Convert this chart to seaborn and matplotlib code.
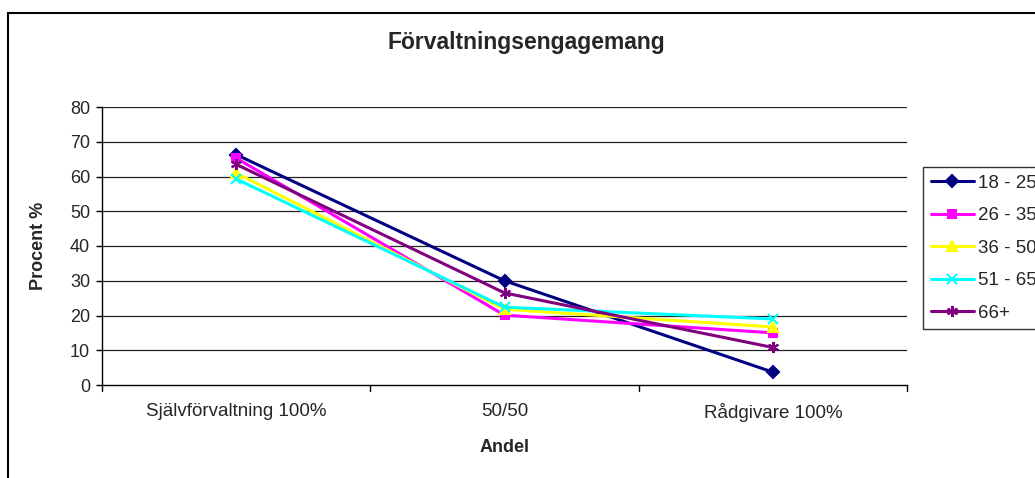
import matplotlib
matplotlib.use("Agg")
import matplotlib.pyplot as plt
import matplotlib.patches as mpatches
import seaborn as sns
import pandas as pd

# Chart data
categories = ["Självförvaltning 100%", "50/50", "Rådgivare 100%"]
groups = ["18 - 25", "26 - 35", "36 - 50", "51 - 65", "66+"]
v_18_25 = [66.3, 30.0, 3.7]
v_26_35 = [65.3, 20.1, 15.0]
v_36_50 = [61.0, 21.8, 16.7]
v_51_65 = [59.3, 22.4, 19.0]
v_66 = [63.5, 26.5, 10.8]
y_ticks = [0, 10, 20, 30, 40, 50, 60, 70, 80]

series = [v_18_25, v_26_35, v_36_50, v_51_65, v_66]
rows = []
for g, vals in zip(groups, series):
    for i, (c, v) in enumerate(zip(categories, vals)):
        rows.append({"pos": i, "Andel": c, "Procent": v, "Grupp": g})
df = pd.DataFrame(rows)

sns.set_style("white")
plt.rcParams["font.family"] = ["Liberation Sans", "DejaVu Sans"]

palette = {"18 - 25": "#000080", "26 - 35": "#FF00FF", "36 - 50": "#FFFF00",
           "51 - 65": "#00FFFF", "66+": "#800080"}
markers = {"18 - 25": "D", "26 - 35": "s", "36 - 50": "^",
           "51 - 65": "x", "66+": (6, 2, 0)}
msizes = {"18 - 25": 6, "26 - 35": 5.5, "36 - 50": 6.5, "51 - 65": 6.5, "66+": 8}

fig = plt.figure(figsize=(10.35, 4.78), dpi=100)
ax = fig.add_axes([102 / 1035, 1 - 385 / 478, (907 - 102) / 1035, (385 - 107) / 478])

for g in groups:
    sub = df[df["Grupp"] == g]
    sns.lineplot(data=sub, x="pos", y="Procent", color=palette[g], marker=markers[g],
                 sort=False, linewidth=2.2, markersize=msizes[g], markeredgewidth=1.5,
                 markeredgecolor=palette[g], ax=ax, label=g, legend=False)

ax.set_xlim(-0.5, 2.5)
ax.set_ylim(0, 80)
ax.set_yticks(y_ticks)
ax.set_yticklabels([str(t) for t in y_ticks], fontsize=13)
ax.set_xticks(range(len(categories)))
ax.set_xticklabels(categories, fontsize=13.5)
ax.tick_params(axis="x", length=0, pad=13)
ax.tick_params(axis="y", length=4.5, width=1, direction="out", color="black", pad=4, left=True)
# category boundary ticks on the x axis
for xb in [-0.5, 0.5, 1.5, 2.5]:
    ax.plot([xb, xb], [0, -1.7], color="black", lw=1, clip_on=False)

for t in y_ticks[1:]:
    ax.axhline(t, color="#222222", lw=0.9, zorder=0)

for s in ["top", "right"]:
    ax.spines[s].set_visible(False)
ax.spines["left"].set_color("black")
ax.spines["bottom"].set_color("black")
ax.spines["left"].set_linewidth(1)
ax.spines["bottom"].set_linewidth(1)

ax.set_xlabel("Andel", fontsize=13, fontweight="bold")
ax.xaxis.set_label_coords(0.5, (385 - 439) / 278)
ax.set_ylabel("Procent %", fontsize=13, fontweight="bold")
ax.yaxis.set_label_coords((47 - 102) / 805, 0.5)

fig.text(526 / 1035, 1 - 43 / 478, "Förvaltningsengagemang", ha="center", va="center",
         fontsize=16.5, fontweight="bold")

# outer chart frame
fig.patches.append(mpatches.Rectangle((8 / 1035, -0.1), 1.2, 1 - 13 / 478 + 0.1,
                                      transform=fig.transFigure, fill=False,
                                      edgecolor="black", lw=1.5))

handles = [plt.Line2D([], [], color=palette[g], marker=markers[g], lw=2.2,
                      markersize=msizes[g], markeredgewidth=1.5) for g in groups]
leg = fig.legend(handles, groups, loc="upper left",
                 bbox_to_anchor=(923 / 1035, 1 - 167 / 478), frameon=True,
                 fancybox=False, edgecolor="black", fontsize=13.5, handlelength=2.3,
                 handletextpad=0.25, labelspacing=0.82, borderpad=0.4,
                 borderaxespad=0)
leg.get_frame().set_linewidth(1)

fig.savefig("out.png", dpi=100)
